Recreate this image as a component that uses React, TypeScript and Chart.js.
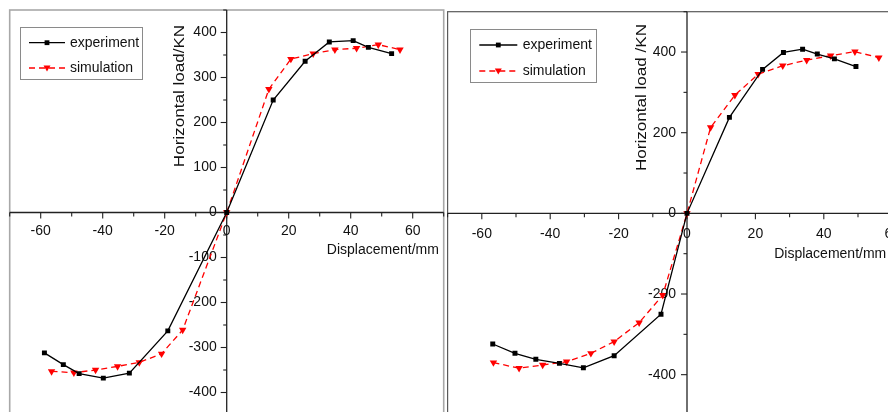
import { useEffect, useRef } from 'react';
import { Chart, registerables } from 'chart.js';

Chart.register(...registerables);

// ---------- Data (left specimen) ----------
const leftExpDisp = [-58.8, -52.7, -47.6, -39.8, -31.4, -19.0, 0, 15.0, 25.3, 33.1, 40.8, 45.7, 53.2];
const leftExpLoad = [-312, -338, -358, -368, -357, -263, 0, 250, 336, 379, 382, 367, 353];
const leftSimDisp = [-56.5, -49.3, -42.3, -35.2, -28.2, -21.0, -14.2, 0, 13.6, 20.7, 27.9, 34.9, 41.9, 48.9, 55.9];
const leftSimLoad = [-353, -356, -350, -342, -333, -314, -261, 0, 274, 341, 353, 362, 365, 373, 362];

// ---------- Data (right specimen) ----------
const rightExpDisp = [-56.8, -50.3, -44.2, -37.3, -30.3, -21.3, -7.6, 0, 12.4, 22.1, 28.2, 33.8, 38.1, 43.1, 49.4];
const rightExpLoad = [-324, -347, -362, -372, -383, -353, -250, 0, 238, 357, 399, 407, 395, 383, 364];
const rightSimDisp = [-56.6, -49.1, -42.2, -35.2, -28.1, -21.3, -14.0, -7.1, 0, 6.9, 14.0, 20.8, 28.0, 35.0, 42.0, 49.1, 56.1];
const rightSimLoad = [-370, -384, -376, -368, -347, -318, -271, -203, 0, 213, 293, 345, 366, 380, 391, 401, 386];

// ---------- Ticks / labels ----------
const xMajorTicks = [-60, -40, -20, 0, 20, 40, 60];
const xMinorTicks = [-70, -50, -30, -10, 10, 30, 50, 70];
const leftYMajorTicks = [-400, -300, -200, -100, 0, 100, 200, 300, 400];
const leftYMinorTicks = [-450, -350, -250, -150, -50, 50, 150, 250, 350, 450];
const rightYMajorTicks = [-400, -200, 0, 200, 400];
const rightYMinorTicks = [-500, -300, -100, 100, 300, 500];
const seriesNames = ['experiment', 'simulation'];
const xTitle = 'Displacement/mm';
const leftYTitle = 'Horizontal load/KN';
const rightYTitle = 'Horizontal load /KN';

const FONT = '"Liberation Sans", Arial, Helvetica, sans-serif';
const TEXT = '#111';

type PanelCfg = {
  expDisp: number[]; expLoad: number[]; simDisp: number[]; simLoad: number[];
  yMin: number; yMax: number;
  yMajor: number[]; yMinor: number[];
  yTitle: string;
  width: number; height: number; left: number;
  padding: { left: number; right: number; top: number; bottom: number };
  frameColor: string; frameWidth: number;
  xLabelDy: number; yLabelDx: number;
  xTitleValue: number; xTitleDy: number;
  yTitleDx: number; yTitleY: number;
  legend: { x: number; y: number; w: number; h: number; lineX0: number; lineX1: number; textX: number; row1: number; row2: number };
};

function makePlugin(cfg: PanelCfg) {
  const line = (ctx: CanvasRenderingContext2D, a: number, b: number, c: number, d: number) => {
    ctx.beginPath(); ctx.moveTo(a, b); ctx.lineTo(c, d); ctx.stroke();
  };
  const drawSquare = (ctx: CanvasRenderingContext2D, x: number, y: number) => {
    ctx.fillStyle = '#000';
    ctx.fillRect(x - 2.4, y - 2.4, 4.8, 4.8);
  };
  const drawTri = (ctx: CanvasRenderingContext2D, x: number, y: number) => {
    ctx.fillStyle = '#ff0000';
    ctx.beginPath();
    ctx.moveTo(x - 3.5, y - 2.5); ctx.lineTo(x + 3.5, y - 2.5); ctx.lineTo(x, y + 3.5); ctx.closePath();
    ctx.fill();
  };
  return {
    id: 'crossAxes',
    beforeDatasetsDraw(chart: any) {
      const ctx: CanvasRenderingContext2D = chart.ctx;
      const { left, right, top, bottom } = chart.chartArea;
      const xs = chart.scales.x, ys = chart.scales.y;
      const x0 = xs.getPixelForValue(0), y0 = ys.getPixelForValue(0);
      ctx.save();
      ctx.fillStyle = '#fff';
      ctx.fillRect(left, top, right - left, bottom - top);
      ctx.strokeStyle = cfg.frameColor; ctx.lineWidth = cfg.frameWidth;
      ctx.strokeRect(left, top, right - left, bottom - top);
      ctx.strokeStyle = '#222'; ctx.lineWidth = 1.3;
      line(ctx, left, y0, right, y0);
      line(ctx, x0, top, x0, bottom);
      ctx.lineWidth = 1.1;
      xMajorTicks.forEach(v => { const p = xs.getPixelForValue(v); line(ctx, p, y0, p, y0 + 6); });
      xMinorTicks.forEach(v => { const p = xs.getPixelForValue(v); line(ctx, p, y0, p, y0 + 4); });
      cfg.yMajor.forEach(v => { const p = ys.getPixelForValue(v); line(ctx, x0, p, x0 - 6, p); });
      cfg.yMinor.forEach(v => { const p = ys.getPixelForValue(v); line(ctx, x0, p, x0 - 3.5, p); });
      ctx.fillStyle = TEXT;
      ctx.font = `14px ${FONT}`;
      ctx.textBaseline = 'middle';
      ctx.textAlign = 'center';
      xMajorTicks.forEach(v => ctx.fillText(String(v), xs.getPixelForValue(v), y0 + cfg.xLabelDy));
      ctx.textAlign = 'right';
      cfg.yMajor.forEach(v => ctx.fillText(String(v), x0 - cfg.yLabelDx, ys.getPixelForValue(v)));
      ctx.textAlign = 'left';
      ctx.fillText(xTitle, xs.getPixelForValue(cfg.xTitleValue), y0 + cfg.xTitleDy);
      ctx.save();
      ctx.translate(x0 - cfg.yTitleDx, cfg.yTitleY);
      ctx.rotate(-Math.PI / 2);
      ctx.scale(1.22, 1);
      ctx.textAlign = 'center';
      ctx.fillText(cfg.yTitle, 0, 0);
      ctx.restore();
      ctx.restore();
    },
    afterDatasetsDraw(chart: any) {
      const ctx: CanvasRenderingContext2D = chart.ctx;
      const L = cfg.legend;
      ctx.save();
      ctx.fillStyle = '#fff';
      ctx.fillRect(L.x, L.y, L.w, L.h);
      ctx.strokeStyle = '#8a8a8a'; ctx.lineWidth = 1;
      ctx.strokeRect(L.x + 0.5, L.y + 0.5, L.w, L.h);
      const mid = (L.lineX0 + L.lineX1) / 2;
      ctx.strokeStyle = '#000'; ctx.lineWidth = 1.3;
      line(ctx, L.lineX0, L.row1, L.lineX1, L.row1);
      drawSquare(ctx, mid, L.row1);
      ctx.strokeStyle = '#ff0000'; ctx.setLineDash([6, 4]);
      line(ctx, L.lineX0, L.row2, L.lineX1, L.row2);
      ctx.setLineDash([]);
      drawTri(ctx, mid, L.row2);
      ctx.fillStyle = TEXT;
      ctx.font = `14px ${FONT}`;
      ctx.textAlign = 'left'; ctx.textBaseline = 'middle';
      ctx.fillText(seriesNames[0], L.textX, L.row1);
      ctx.fillText(seriesNames[1], L.textX, L.row2);
      ctx.restore();
    },
  };
}

function Panel({ cfg }: { cfg: PanelCfg }) {
  const ref = useRef<HTMLCanvasElement | null>(null);
  useEffect(() => {
    if (!ref.current) return;
    const toPts = (xs: number[], ys: number[]) => xs.map((x, i) => ({ x, y: ys[i] }));
    const chart = new Chart(ref.current, {
      type: 'line',
      data: {
        datasets: [
          {
            label: seriesNames[0],
            data: toPts(cfg.expDisp, cfg.expLoad),
            borderColor: '#000',
            backgroundColor: '#000',
            borderWidth: 1.3,
            pointStyle: 'rect',
            pointRadius: 3.5,
            pointBorderWidth: 0,
            tension: 0,
            fill: false,
          },
          {
            label: seriesNames[1],
            data: toPts(cfg.simDisp, cfg.simLoad),
            borderColor: '#ff0000',
            backgroundColor: '#ff0000',
            borderWidth: 1.3,
            borderDash: [6, 4],
            pointStyle: 'triangle',
            pointRotation: 180,
            pointRadius: 4.3,
            pointBorderWidth: 0,
            tension: 0,
            fill: false,
          },
        ],
      },
      options: {
        responsive: false,
        animation: false,
        devicePixelRatio: 1,
        layout: { padding: cfg.padding },
        scales: {
          x: { type: 'linear', min: -70, max: 70, display: false },
          y: { type: 'linear', min: cfg.yMin, max: cfg.yMax, display: false },
        },
        plugins: { legend: { display: false }, tooltip: { enabled: false } },
        events: [],
      },
      plugins: [makePlugin(cfg)],
    } as any);
    return () => chart.destroy();
  }, [cfg]);
  return (
    <canvas
      ref={ref}
      width={cfg.width}
      height={cfg.height}
      style={{ position: 'absolute', left: cfg.left, top: 0, width: cfg.width, height: cfg.height }}
    />
  );
}

const leftCfg: PanelCfg = {
  expDisp: leftExpDisp, expLoad: leftExpLoad, simDisp: leftSimDisp, simLoad: leftSimLoad,
  yMin: -450, yMax: 450, yMajor: leftYMajorTicks, yMinor: leftYMinorTicks, yTitle: leftYTitle,
  width: 452, height: 430, left: 0,
  padding: { left: 9.7, right: 8.3, top: 10, bottom: 15 },
  frameColor: '#a8a8a8', frameWidth: 1.6,
  xLabelDy: 18.5, yLabelDx: 10,
  xTitleValue: 32.3, xTitleDy: 38,
  yTitleDx: 46.5, yTitleY: 96,
  legend: { x: 20, y: 27, w: 122, h: 52, lineX0: 29, lineX1: 65, textX: 70, row1: 42.7, row2: 68 },
};

const rightCfg: PanelCfg = {
  expDisp: rightExpDisp, expLoad: rightExpLoad, simDisp: rightSimDisp, simLoad: rightSimLoad,
  yMin: -500, yMax: 500, yMajor: rightYMajorTicks, yMinor: rightYMinorTicks, yTitle: rightYTitle,
  width: 500, height: 430, left: 440,
  padding: { left: 7.6, right: 13.6, top: 11.7, bottom: 15 },
  frameColor: '#5a5a5a', frameWidth: 1.2,
  xLabelDy: 20.5, yLabelDx: 11,
  xTitleValue: 25.5, xTitleDy: 41,
  yTitleDx: 45.3, yTitleY: 97.5,
  legend: { x: 30, y: 29, w: 126, h: 53, lineX0: 39.3, lineX1: 77.3, textX: 82.7, row1: 45, row2: 71 },
};

export default function App() {
  return (
    <div style={{ position: 'fixed', left: 0, top: 0, width: 888, height: 412, overflow: 'hidden', background: '#fff' }}>
      <Panel cfg={leftCfg} />
      <Panel cfg={rightCfg} />
    </div>
  );
}
